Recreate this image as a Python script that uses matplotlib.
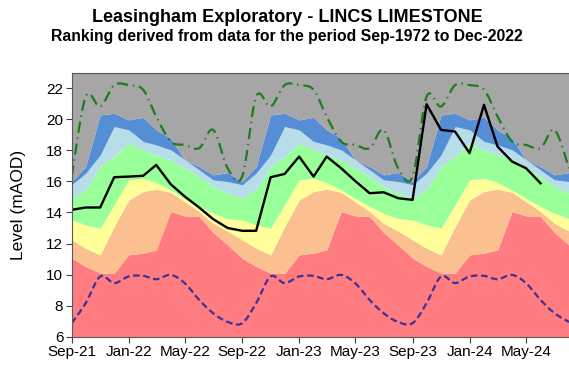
import numpy as np
import pandas as pd
import matplotlib
matplotlib.use("Agg")
import matplotlib.pyplot as plt
import matplotlib.dates as mdates

plt.rcParams['font.family'] = ['Liberation Sans', 'DejaVu Sans']

# Monthly ranking boundaries (mAOD), listed Sep .. Aug
cal_months = [9, 10, 11, 12, 1, 2, 3, 4, 5, 6, 7, 8]
exc_low_top = [11.06, 10.52, 10.09, 10.09, 11.27, 11.38, 11.59, 14.06, 13.78, 13.74, 12.71, 11.91]
notably_low_top = [12.24, 11.70, 11.27, 13.10, 14.80, 15.35, 15.50, 15.30, 14.70, 14.06, 13.30, 12.80]
below_normal_top = [13.52, 13.20, 12.99, 14.50, 16.10, 16.20, 15.93, 15.45, 14.90, 14.40, 13.95, 13.60]
normal_top = [14.92, 15.45, 16.96, 17.60, 18.46, 18.03, 17.70, 17.40, 16.85, 16.30, 15.67, 15.24]
above_normal_top = [15.78, 16.53, 17.70, 19.53, 19.32, 18.57, 18.35, 18.03, 17.40, 16.74, 16.10, 15.99]
notably_high_top = [15.99, 16.96, 20.28, 20.39, 19.96, 20.13, 19.32, 18.78, 17.39, 16.96, 16.42, 16.57]
record_max = [16.31, 21.46, 20.82, 22.20, 22.20, 21.90, 20.18, 18.57, 18.35, 18.14, 19.32, 16.85]
record_min = [6.87, 8.16, 9.88, 9.45, 9.88, 9.92, 9.70, 9.98, 9.45, 8.37, 7.51, 6.95]

# Observed groundwater levels, Sep-2021 onwards (mAOD)
levels = [14.17, 14.32, 14.32, 16.27, 16.31, 16.36, 17.06, 15.82, 15.03, 14.32,
          13.57, 13.00, 12.82, 12.82, 16.27, 16.48, 17.60, 16.31, 17.60, 16.85,
          16.03, 15.24, 15.30, 14.92, 14.81, 20.97, 19.32, 19.21, 17.82, 20.93,
          18.24, 17.28, 16.85, 15.88]

tick_labels = ['Sep-21', 'Jan-22', 'May-22', 'Sep-22', 'Jan-23',
               'May-23', 'Sep-23', 'Jan-24', 'May-24']

dates = pd.date_range('2021-09-01', '2024-08-01', freq='MS')
lookup = {m: i for i, m in enumerate(cal_months)}
idx = [lookup[d.month] for d in dates]


def by_date(series):
    return np.array([series[i] for i in idx])


def smooth(x, y, n=24):
    """Catmull-Rom style smoothed curve through the points."""
    x = np.asarray(x, float)
    y = np.asarray(y, float)
    xs, ys = [], []
    for i in range(len(x) - 1):
        i0 = max(i - 1, 0)
        i3 = min(i + 2, len(x) - 1)
        p0 = np.array([x[i0], y[i0]])
        p1 = np.array([x[i], y[i]])
        p2 = np.array([x[i + 1], y[i + 1]])
        p3 = np.array([x[i3], y[i3]])
        c1 = p1 + (p2 - p0) / 6.0
        c2 = p2 - (p3 - p1) / 6.0
        t = np.linspace(0, 1, n, endpoint=(i == len(x) - 2))[:, None]
        pts = ((1 - t) ** 3) * p1 + 3 * ((1 - t) ** 2) * t * c1 \
            + 3 * (1 - t) * t ** 2 * c2 + t ** 3 * p2
        xs.extend(pts[:, 0])
        ys.extend(pts[:, 1])
    return np.array(xs), np.array(ys)


ymin, ymax = 6, 23
xnum = mdates.date2num(dates)

fig = plt.figure(figsize=(5.69, 3.69), dpi=100)
ax = fig.add_axes([71.7 / 569, 1 - 336.7 / 369, 1 - 71.7 / 569, (336.7 - 72.7) / 369])

bounds = [np.full(len(dates), ymin),
          by_date(exc_low_top), by_date(notably_low_top), by_date(below_normal_top),
          by_date(normal_top), by_date(above_normal_top), by_date(notably_high_top),
          np.full(len(dates), ymax)]
colors = ['#FF7C80', '#FAC090', '#FFFF99', '#99FF99', '#B7DDE8', '#558ED5', '#A6A6A6']
for lo, hi, c in zip(bounds[:-1], bounds[1:], colors):
    ax.fill_between(xnum, lo, hi, color=c, linewidth=0)

sx, sy = smooth(xnum, by_date(record_max))
ax.plot(sx, sy, color='#1E7B1E', lw=1.6, dashes=(5, 2.2, 0.6, 2.2))
sx, sy = smooth(xnum, by_date(record_min))
ax.plot(sx, sy, color='#3F3296', lw=1.6, dashes=(3.0, 1.6))
ax.plot(xnum[:len(levels)], levels, color='black', lw=1.7)

ax.set_ylim(ymin, ymax)
ax.set_xlim(xnum[0], xnum[-1])
ax.set_yticks(range(6, 23, 2))
tick_dates = pd.date_range('2021-09-01', '2024-05-01', freq='4MS')
ax.set_xticks(mdates.date2num(tick_dates))
ax.set_xticklabels(tick_labels)
ax.tick_params(axis='both', labelsize=11, direction='out', length=4,
               color='#404040', width=0.8, pad=2)
for s in ['left', 'bottom', 'top']:
    ax.spines[s].set_color('#595959')
    ax.spines[s].set_linewidth(0.8)
ax.spines['right'].set_visible(False)
ax.set_ylabel('Level (mAOD)', fontsize=12.5, labelpad=15)

fig.text(0.505, 1 - 17 / 369, 'Leasingham Exploratory - LINCS LIMESTONE',
         ha='center', va='center', fontsize=13, fontweight='bold')
fig.text(0.505, 1 - 37 / 369, 'Ranking derived from data for the period Sep-1972 to Dec-2022',
         ha='center', va='center', fontsize=11.3, fontweight='bold')

fig.savefig('out.png', dpi=100)
